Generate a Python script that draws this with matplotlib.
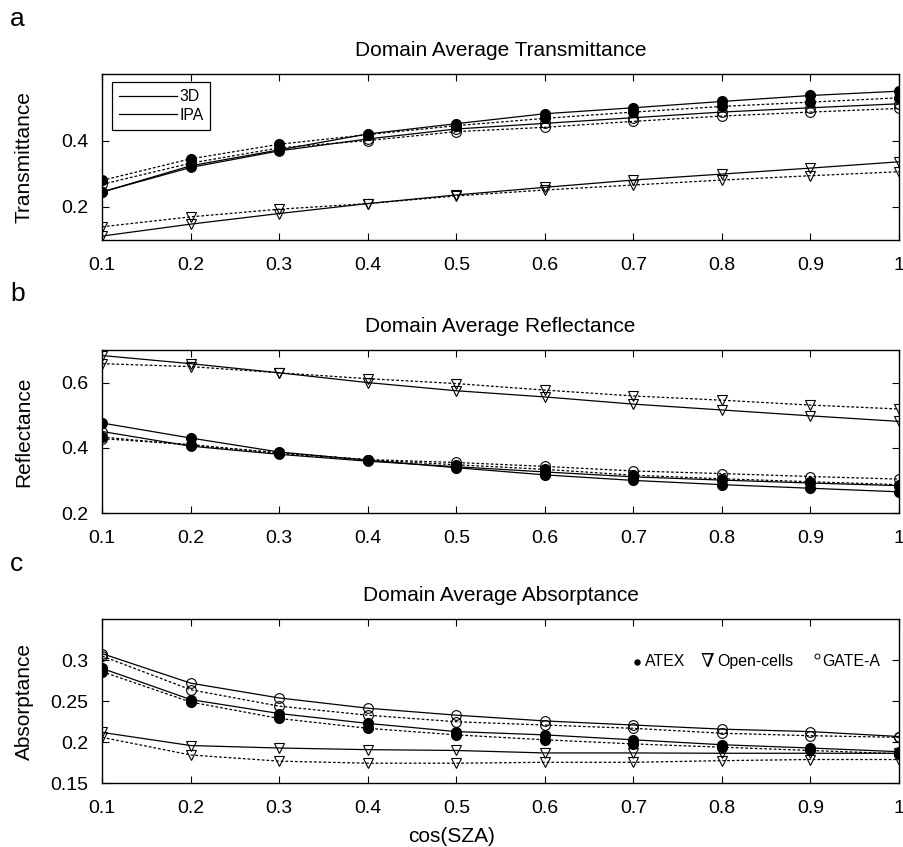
"""Domain average transmittance / reflectance / absorptance vs cos(SZA), 3D vs IPA."""

import matplotlib
matplotlib.use("Agg")
import matplotlib.pyplot as plt
from matplotlib.lines import Line2D

plt.rcParams["font.family"] = ["Liberation Sans", "DejaVu Sans"]

mu = [0.1, 0.2, 0.3, 0.4, 0.5, 0.6, 0.7, 0.8, 0.9, 1.0]
xtick_labels = ["0.1", "0.2", "0.3", "0.4", "0.5", "0.6", "0.7", "0.8", "0.9", "1"]

# transmittance
trans_atex_3d = [0.245, 0.324, 0.372, 0.420, 0.451, 0.481, 0.499, 0.518, 0.536, 0.549]
trans_atex_ipa = [0.280, 0.345, 0.389, 0.418, 0.445, 0.467, 0.486, 0.503, 0.516, 0.529]
trans_gate_3d = [0.245, 0.319, 0.369, 0.405, 0.435, 0.452, 0.469, 0.486, 0.499, 0.511]
trans_gate_ipa = [0.268, 0.332, 0.378, 0.400, 0.427, 0.440, 0.458, 0.474, 0.486, 0.497]
trans_open_3d = [0.112, 0.148, 0.180, 0.210, 0.236, 0.259, 0.281, 0.299, 0.317, 0.336]
trans_open_ipa = [0.140, 0.170, 0.193, 0.210, 0.233, 0.251, 0.266, 0.281, 0.294, 0.306]

# reflectance
refl_atex_3d = [0.476, 0.430, 0.387, 0.362, 0.339, 0.317, 0.300, 0.287, 0.276, 0.265]
refl_atex_ipa = [0.433, 0.408, 0.385, 0.363, 0.348, 0.334, 0.316, 0.305, 0.296, 0.287]
refl_gate_3d = [0.450, 0.405, 0.380, 0.359, 0.342, 0.326, 0.311, 0.301, 0.292, 0.284]
refl_gate_ipa = [0.428, 0.410, 0.383, 0.364, 0.355, 0.343, 0.329, 0.321, 0.312, 0.304]
refl_open_3d = [0.683, 0.658, 0.630, 0.600, 0.575, 0.556, 0.534, 0.516, 0.498, 0.481]
refl_open_ipa = [0.658, 0.649, 0.630, 0.612, 0.597, 0.577, 0.559, 0.546, 0.531, 0.519]

# absorptance
abs_atex_3d = [0.290, 0.252, 0.235, 0.223, 0.213, 0.209, 0.203, 0.197, 0.193, 0.1885]
abs_atex_ipa = [0.286, 0.249, 0.229, 0.217, 0.209, 0.203, 0.198, 0.194, 0.190, 0.186]
abs_gate_3d = [0.308, 0.272, 0.254, 0.2415, 0.233, 0.226, 0.221, 0.216, 0.213, 0.207]
abs_gate_ipa = [0.305, 0.264, 0.244, 0.233, 0.225, 0.221, 0.217, 0.211, 0.208, 0.206]
abs_open_3d = [0.212, 0.196, 0.193, 0.191, 0.190, 0.187, 0.187, 0.1866, 0.1866, 0.1866]
abs_open_ipa = [0.206, 0.1845, 0.177, 0.1745, 0.1745, 0.1756, 0.1756, 0.1776, 0.179, 0.179]

DOTTED = (0, (2.2, 1.6))
LW = 0.9
STYLE = {
    "atex": dict(marker="o", ms=7, mfc="black", mec="black"),
    "open": dict(marker="v", ms=6.5, mfc="none", mec="black", mew=0.8),
    "gate": dict(marker="o", ms=7, mfc="none", mec="black", mew=0.8),
}


def draw_panel(ax, series, ylim, yticks, title, ylabel):
    for key, y3d, yipa in series:
        ax.plot(mu, y3d, color="black", lw=LW, ls="-", **STYLE[key])
        ax.plot(mu, yipa, color="black", lw=LW, ls=DOTTED, **STYLE[key])
    ax.set_xlim(0.1, 1.0)
    ax.set_ylim(*ylim)
    ax.set_xticks(mu)
    ax.set_xticklabels(xtick_labels)
    ax.set_yticks(yticks)
    ax.set_yticklabels([f"{t:g}" for t in yticks])
    ax.tick_params(direction="in", length=5, width=0.8, top=True, right=True, labelsize=14)
    ax.tick_params(axis="x", pad=12)
    ax.tick_params(axis="y", pad=10)
    for s in ax.spines.values():
        s.set_linewidth(1.0)
    ax.set_title(title, fontsize=15, pad=13)
    ax.set_ylabel(ylabel, fontsize=15)
    ax.yaxis.set_label_coords(-0.086, 0.5)


fig = plt.figure(figsize=(9.04, 8.47), dpi=100)
L, W = 0.113, 0.8815
ax_t = fig.add_axes([L, 0.7166, W, 0.1957])
ax_r = fig.add_axes([L, 0.3943, W, 0.1925])
ax_a = fig.add_axes([L, 0.0752, W, 0.1938])

draw_panel(ax_t, [("atex", trans_atex_3d, trans_atex_ipa),
                  ("gate", trans_gate_3d, trans_gate_ipa),
                  ("open", trans_open_3d, trans_open_ipa)],
           (0.1, 0.6), [0.2, 0.4], "Domain Average Transmittance", "Transmittance")
draw_panel(ax_r, [("atex", refl_atex_3d, refl_atex_ipa),
                  ("gate", refl_gate_3d, refl_gate_ipa),
                  ("open", refl_open_3d, refl_open_ipa)],
           (0.2, 0.7), [0.2, 0.4, 0.6], "Domain Average Reflectance", "Reflectance")
draw_panel(ax_a, [("atex", abs_atex_3d, abs_atex_ipa),
                  ("gate", abs_gate_3d, abs_gate_ipa),
                  ("open", abs_open_3d, abs_open_ipa)],
           (0.15, 0.35), [0.15, 0.2, 0.25, 0.3], "Domain Average Absorptance", "Absorptance")

# 3D / IPA legend (both drawn as plain solid lines, as in the original)
handles = [Line2D([], [], color="black", lw=LW), Line2D([], [], color="black", lw=LW)]
leg = ax_t.legend(handles, ["3D", "IPA"], loc="upper left", bbox_to_anchor=(0.0118, 0.9536),
                  borderaxespad=0, fontsize=11.3, handlelength=3.7, fancybox=False,
                  framealpha=1, edgecolor="black", borderpad=0.45, labelspacing=0.25,
                  handletextpad=0.15)
leg.get_frame().set_linewidth(0.9)

# dataset key in the absorptance panel
ky = 0.741
kfs = 11.4
ax_a.plot([0.671], [ky], "o", ms=3.6, color="black", transform=ax_a.transAxes, clip_on=False)
ax_a.text(0.681, ky, "ATEX", transform=ax_a.transAxes, fontsize=kfs, va="center")
ax_a.text(0.760, ky + 0.004, "\u2207", transform=ax_a.transAxes, fontsize=14, va="center",
          ha="center", family=["DejaVu Serif"])
ax_a.text(0.772, ky, "Open-cells", transform=ax_a.transAxes, fontsize=kfs, va="center")
ax_a.plot([0.8966], [0.778], "o", ms=3.6, mfc="white", mec="black", mew=0.7,
          transform=ax_a.transAxes, clip_on=False)
ax_a.text(0.904, ky, "GATE-A", transform=ax_a.transAxes, fontsize=kfs, va="center")

fig.text(0.5, 0.0059, "cos(SZA)", ha="center", va="baseline", fontsize=15)
for letter, ybase in [("a", 26), ("b", 301), ("c", 571)]:
    fig.text(10 / 904, 1 - ybase / 847, letter, va="baseline", fontsize=19)

fig.savefig("out.png", dpi=100)
